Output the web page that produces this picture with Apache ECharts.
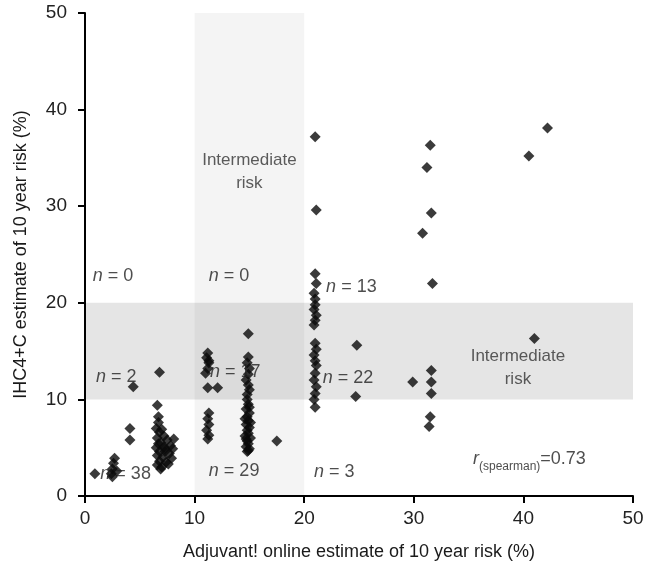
<!DOCTYPE html>
<html><head><meta charset="utf-8">
<script src="https://cdn.jsdelivr.net/npm/echarts@6/dist/echarts.min.js"></script>
<style>html,body{margin:0;padding:0;background:#fff}#c{width:647px;height:572px}</style>
</head><body><div id="c"></div>
<script>
// Axis ticks
const xTicks = [0, 10, 20, 30, 40, 50];
const yTicks = [0, 10, 20, 30, 40, 50];

// Intermediate-risk bands [from, to]
const adjuvantBand = [10, 20];
const ihcBand = [10, 20];

// Points grouped by region [Adjuvant!, IHC4+C]
const lowLow = [
  [0.9,2.3],[2.4,2.3],[2.5,2.8],[2.6,3.4],[2.7,3.9],[2.9,2.6],[2.5,2.0],[4.1,7.0],[4.1,5.8],
  [6.6,9.4],[6.7,8.2],[6.7,7.6],[6.5,7.0],[6.8,6.6],[7.2,6.2],[6.6,6.0],[7.5,5.8],[6.9,5.5],
  [7.8,5.2],[6.5,5.0],[7.3,4.9],[6.8,4.6],[7.7,4.4],[6.6,4.2],[7.1,4.0],[7.9,3.9],[6.8,3.6],
  [7.4,3.5],[6.6,3.2],[7.0,3.0],[7.6,3.3],[6.9,2.8],[7.3,4.6],[8.1,5.9],[8.0,4.9],[6.7,5.4],
  [7.2,5.1],[7.0,6.9]
];
const lowMid = [[4.4,11.3],[6.8,12.8]];
const midLow = [
  [11.3,8.6],[11.2,8.0],[11.3,7.4],[11.1,6.8],[11.3,6.3],[11.2,5.9],
  [14.8,10.0],[14.9,9.5],[14.7,9.0],[15.0,8.6],[14.8,8.2],[14.9,7.8],[14.7,7.4],[15.0,7.1],
  [14.8,6.8],[14.9,6.5],[14.6,6.2],[15.1,6.0],[14.8,5.7],[14.9,5.4],[14.7,5.1],[15.0,4.9],
  [14.8,4.6],[15.0,9.2],[14.6,8.0],[15.1,7.6],[14.7,5.9],[14.9,4.7],[17.5,5.7]
];
const midMid = [
  [14.9,16.8],[11.2,14.8],[11.1,14.3],[11.3,13.8],[11.2,13.2],[11.0,12.7],[11.2,11.2],[12.1,11.2],
  [14.9,14.4],[14.8,13.8],[15.0,13.2],[14.9,12.6],[14.7,12.0],[14.9,11.5],[15.0,11.0],[14.8,10.5],[11.3,14.0]
];
const highHigh = [
  [21.0,37.2],[21.1,29.6],[21.0,23.0],[21.1,22.0],[20.9,21.0],[21.0,20.4],
  [31.5,36.3],[31.2,34.0],[31.6,29.3],[30.8,27.2],[31.7,22.0],[40.5,35.2],[42.2,38.1]
];
const highMid = [
  [21.0,19.8],[20.9,19.3],[21.1,18.7],[21.0,18.2],[20.9,17.7],[21.0,15.8],[21.1,15.2],[20.9,14.6],
  [21.0,14.0],[21.1,13.5],[21.0,12.7],[20.9,12.0],[21.1,11.3],[21.0,10.6],[20.9,10.0],
  [24.8,15.6],[24.7,10.3],[29.9,11.8],[31.6,13.0],[31.6,11.8],[31.6,10.6],[41.0,16.3]
];
const highLow = [[21.0,9.2],[31.5,8.2],[31.4,7.2]];

// Count annotations [x, y, n]
const countLabels = [
  [0.7,22.8,'0'],[11.3,22.8,'0'],[22.0,21.6,'13'],
  [1.0,12.3,'2'],[11.4,12.8,'17'],[21.7,12.2,'22'],
  [1.4,2.3,'38'],[11.3,2.6,'29'],[20.9,2.5,'3']
];
const bandLabels = [[15,33.6,'Intermediate\nrisk'],[39.5,13.3,'Intermediate\nrisk']];
const corrLabel = [[35.4,3.6,'0.73']];

const allPoints = [].concat(lowLow, lowMid, midLow, midMid, highHigh, highMid, highLow);
const FF = 'Liberation Sans, Arial, Helvetica, sans-serif';

const chart = echarts.init(document.getElementById('c'), null, {renderer:'canvas'});
const axisCommon = {
  type:'value', min:xTicks[0], max:xTicks[xTicks.length-1], interval:10,
  axisLine:{show:true, lineStyle:{color:'#000', width:2}},
  axisTick:{show:true, length:7, lineStyle:{color:'#000', width:2}},
  splitLine:{show:false},
  nameLocation:'middle',
  nameTextStyle:{fontSize:18, color:'#1a1a1a', fontFamily:FF}
};
chart.setOption({
  animation:false,
  backgroundColor:'#fff',
  grid:{left:85, right:14, top:13, bottom:76},
  xAxis:Object.assign({}, axisCommon, {
    name:'Adjuvant! online estimate of 10 year risk (%)', nameGap:47,
    axisLabel:{fontSize:19, color:'#222', margin:13, fontFamily:FF}
  }),
  yAxis:Object.assign({}, axisCommon, {
    min:yTicks[0], max:yTicks[yTicks.length-1],
    name:'IHC4+C estimate of 10 year risk (%)', nameGap:55,
    axisLabel:{fontSize:19, color:'#222', margin:18, fontFamily:FF}
  }),
  series:[
    {type:'line', data:[], z:1, silent:true,
     markArea:{silent:true, data:[
       [{xAxis:adjuvantBand[0], yAxis:0, itemStyle:{color:'rgba(0,0,0,0.045)'}},{xAxis:adjuvantBand[1], yAxis:50}],
       [{xAxis:0, yAxis:ihcBand[0], itemStyle:{color:'rgba(0,0,0,0.10)'}},{xAxis:50, yAxis:ihcBand[1]}]
     ]}},
    {type:'scatter', data:allPoints, symbol:'diamond', symbolSize:11, z:3,
     itemStyle:{color:'#0a0a0a'}},
    {type:'scatter', data:countLabels.map(d=>({value:[d[0],d[1]], n:d[2]})), symbolSize:0, z:4,
     label:{show:true, position:'right', distance:0, color:'#222', fontFamily:FF, fontSize:18,
       formatter:p=>'{i|n} = ' + p.data.n,
       rich:{i:{fontStyle:'italic', fontSize:18, color:'#222', fontFamily:FF}}}},
    {type:'scatter', data:bandLabels.map(d=>({value:[d[0],d[1]], t:d[2]})), symbolSize:0, z:4,
     label:{show:true, position:'inside', color:'#333', fontFamily:FF, fontSize:17, lineHeight:23, align:'center',
       formatter:p=>p.data.t}},
    {type:'scatter', data:corrLabel.map(d=>({value:[d[0],d[1]], t:d[2]})), symbolSize:0, z:4,
     label:{show:true, position:'right', distance:0, color:'#222', fontFamily:FF,
       formatter:p=>'{r|r}{s|(spearman)}{v|=' + p.data.t + '}',
       rich:{
         r:{fontStyle:'italic', fontSize:18, color:'#222', fontFamily:FF, verticalAlign:'top', lineHeight:22},
         s:{fontSize:12, color:'#222', fontFamily:FF, verticalAlign:'bottom', lineHeight:22, padding:[10,0,0,0]},
         v:{fontSize:18, color:'#222', fontFamily:FF, verticalAlign:'top', lineHeight:22}
       }}}
  ]
});
</script></body></html>
